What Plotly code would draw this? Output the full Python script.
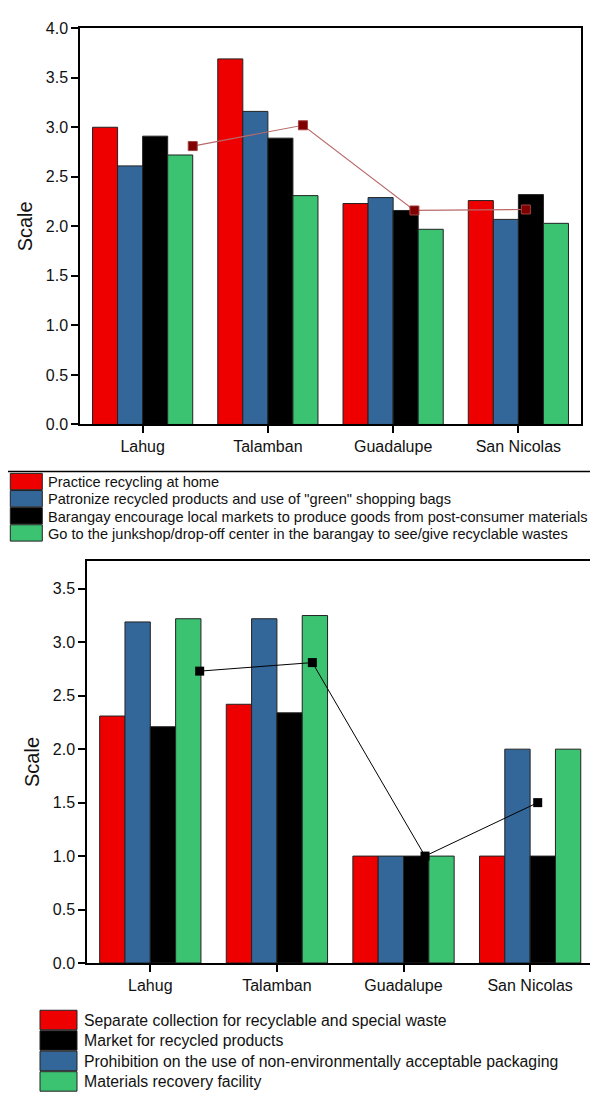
import plotly.graph_objects as go

W, H = 590, 1099

sites = ["Lahug", "Talamban", "Guadalupe", "San Nicolas"]
site_pos = [0, 1, 2, 3]

# Upper panel: recycling practices
practice_home = [3.00, 3.69, 2.23, 2.26]
green_bags = [2.61, 3.16, 2.29, 2.07]
local_markets = [2.91, 2.89, 2.16, 2.32]
junkshop = [2.72, 2.31, 1.97, 2.03]
upper_mean = [2.81, 3.02, 2.16, 2.17]
upper_mean_x = [0.40, 1.28, 2.17, 3.06]

# Lower panel: facilities and policies
separate_collection = [2.31, 2.42, 1.00, 1.00]
prohibition = [3.19, 3.22, 1.00, 2.00]
recycled_market = [2.21, 2.34, 1.00, 1.00]
mrf = [3.22, 3.25, 1.00, 2.00]
lower_mean = [2.73, 2.81, 1.00, 1.50]
lower_mean_x = [0.39, 1.28, 2.17, 3.06]

upper_names = [
    "Practice recycling at home",
    'Patronize recycled products and use of "green" shopping bags',
    "Barangay encourage local markets to produce goods from post-consumer materials",
    "Go to the junkshop/drop-off center in the barangay to see/give recyclable wastes",
]
lower_names = [
    "Separate collection for recyclable and special waste",
    "Prohibition on the use of non-environmentally acceptable packaging",
    "Market for recycled products",
    "Materials recovery facility",
]

RED, BLUE, BLACK, GREEN = "#EE0000", "#336699", "#000000", "#3CC372"
FONT = "Liberation Sans, Arial, sans-serif"


def xp(px):
    return px / W


def yp(py):
    return 1 - py / H


fig = go.Figure()

upper_series = [practice_home, green_bags, local_markets, junkshop]
upper_colors = [RED, BLUE, BLACK, GREEN]
for name, vals, col in zip(upper_names, upper_series, upper_colors):
    fig.add_trace(go.Bar(
        x=site_pos, y=vals, name=name, marker_color=col,
        marker_line=dict(color="#222222", width=1),
        xaxis="x", yaxis="y", showlegend=False,
    ))
fig.add_trace(go.Scatter(
    x=upper_mean_x, y=upper_mean, mode="lines+markers",
    line=dict(color="#B86A6A", width=1.2),
    marker=dict(symbol="square", size=9, color="#800000",
                line=dict(color="#A04040", width=1)),
    xaxis="x", yaxis="y", showlegend=False,
))

lower_series = [separate_collection, prohibition, recycled_market, mrf]
lower_colors = [RED, BLUE, BLACK, GREEN]
for name, vals, col in zip(lower_names, lower_series, lower_colors):
    fig.add_trace(go.Bar(
        x=site_pos, y=vals, name=name, marker_color=col,
        marker_line=dict(color="#222222", width=1),
        xaxis="x2", yaxis="y2", showlegend=False,
    ))
fig.add_trace(go.Scatter(
    x=lower_mean_x, y=lower_mean, mode="lines+markers",
    line=dict(color="#000000", width=1),
    marker=dict(symbol="square", size=9, color="#000000"),
    xaxis="x2", yaxis="y2", showlegend=False,
))

axis_common = dict(
    showline=True, linecolor="black", linewidth=1.5,
    ticks="outside", ticklen=7, tickwidth=1.5, tickcolor="black",
    showgrid=False, zeroline=False,
    tickfont=dict(family=FONT, size=16, color="#111111"),
)

fig.update_layout(
    width=W, height=H,
    margin=dict(l=0, r=0, t=0, b=0),
    paper_bgcolor="white", plot_bgcolor="white",
    barmode="group", bargap=0.2, bargroupgap=0,
    font=dict(family=FONT, color="#111111"),
    xaxis=dict(axis_common, domain=[xp(80), xp(581)], range=[-0.5, 3.5],
               tickvals=site_pos, ticktext=sites, mirror=True, anchor="y"),
    yaxis=dict(axis_common, domain=[yp(423), yp(20.5)], range=[0, 4],
               tickvals=[0, 0.5, 1, 1.5, 2, 2.5, 3, 3.5, 4], tickformat=".1f",
               mirror=True, anchor="x",
               title=dict(text="Scale", font=dict(family=FONT, size=20), standoff=8)),
    xaxis2=dict(axis_common, domain=[xp(87), 1.0], range=[-0.5, 3.473],
                tickvals=site_pos, ticktext=sites, mirror=True, anchor="y2"),
    yaxis2=dict(axis_common, domain=[yp(970), yp(561.7)], range=[0, 3.76],
                tickvals=[0, 0.5, 1, 1.5, 2, 2.5, 3, 3.5], tickformat=".1f",
                mirror=False, anchor="x2",
                title=dict(text="Scale", font=dict(family=FONT, size=20), standoff=8)),
)

shapes = []
annotations = []

# Upper legend: framed by a rule above it
shapes.append(dict(type="line", xref="paper", yref="paper",
                   x0=xp(8), x1=xp(590), y0=yp(470.7), y1=yp(470.7),
                   line=dict(color="black", width=1.5)))
row_top, row_h = 472.7, 17.4
for i, (name, col) in enumerate(zip(upper_names, upper_colors)):
    t = row_top + i * row_h
    shapes.append(dict(type="rect", xref="paper", yref="paper",
                       x0=xp(10.3), x1=xp(42.3), y0=yp(t + row_h - 0.8), y1=yp(t),
                       fillcolor=col, line=dict(color="#222222", width=1)))
    annotations.append(dict(xref="paper", yref="paper", x=xp(46), y=yp(t + row_h / 2 + 0.4),
                            text=name, showarrow=False, xanchor="left", yanchor="middle",
                            font=dict(family=FONT, size=14.6, color="#111111")))

# Lower legend
lower_order = [0, 2, 1, 3]
row_top, row_h = 1018.0, 20.8
for i, k in enumerate(lower_order):
    t = row_top + i * row_h
    shapes.append(dict(type="rect", xref="paper", yref="paper",
                       x0=xp(40), x1=xp(77), y0=yp(t + row_h - 1), y1=yp(t),
                       fillcolor=lower_colors[k], line=dict(color="#222222", width=1)))
    annotations.append(dict(xref="paper", yref="paper", x=xp(82), y=yp(t + row_h / 2),
                            text=lower_names[k], showarrow=False, xanchor="left", yanchor="middle",
                            font=dict(family=FONT, size=15.8, color="#111111")))

fig.update_layout(shapes=shapes, annotations=annotations)

fig.write_html("out.html")
